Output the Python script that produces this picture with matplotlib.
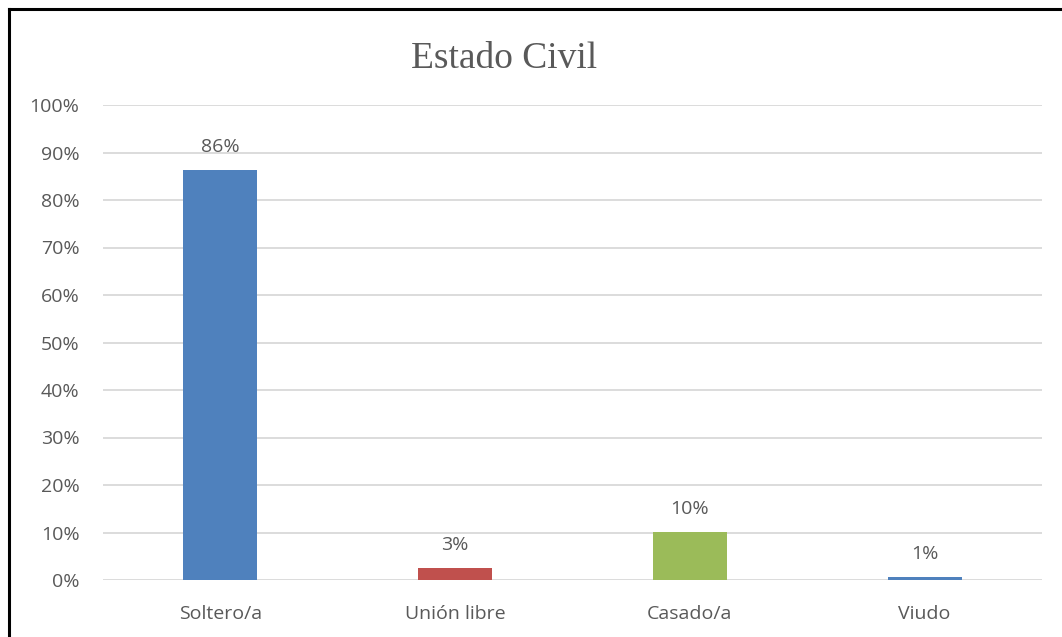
import matplotlib.pyplot as plt
from matplotlib.lines import Line2D
from matplotlib.ticker import PercentFormatter

categorias = ['Soltero/a', 'Unión libre', 'Casado/a', 'Viudo']
valores = [0.863, 0.026, 0.102, 0.007]
etiquetas = ['86%', '3%', '10%', '1%']
colores = ['#4f81bd', '#c0504d', '#9bbb59', '#4f81bd']

gris = '#595959'
plt.rcParams['font.family'] = ['Open Sans', 'DejaVu Sans']

fig = plt.figure(figsize=(10.62, 6.37), dpi=100)
ax = fig.add_axes([103 / 1062, 1 - 580 / 637, (1042 - 103) / 1062, (580 - 105) / 637])

x = range(len(categorias))
bars = ax.bar(x, valores, width=0.315, color=colores, zorder=3)

for b, t in zip(bars, etiquetas):
    ax.annotate(t, (b.get_x() + b.get_width() / 2, b.get_height()),
                xytext=(0, 10), textcoords='offset points',
                ha='center', va='bottom', fontsize=14, color=gris)

ax.set_xlim(-0.5, len(categorias) - 0.5)
ax.set_ylim(0, 1)
ax.set_yticks([i / 10 for i in range(11)])
ax.yaxis.set_major_formatter(PercentFormatter(1.0, decimals=0))
ax.set_xticks(list(x))
ax.set_xticklabels(categorias)
ax.tick_params(axis='both', length=0, labelsize=14, labelcolor=gris)
ax.tick_params(axis='x', pad=18)
ax.tick_params(axis='y', pad=17)
ax.grid(axis='y', color='#d9d9d9', linewidth=1.3, zorder=0)
for s in ax.spines.values():
    s.set_visible(False)

fig.text(504 / 1062, 1 - 68 / 637, 'Estado Civil', ha='center', va='baseline',
         fontsize=27, color=gris, family='Liberation Serif')

# marco exterior
fig.add_artist(Line2D([9 / 1062, 9 / 1062], [0, 1 - 9 / 637], color='black', lw=2.2))
fig.add_artist(Line2D([9 / 1062, 1], [1 - 9 / 637, 1 - 9 / 637], color='black', lw=2.2))

fig.savefig('out.png', dpi=100)
